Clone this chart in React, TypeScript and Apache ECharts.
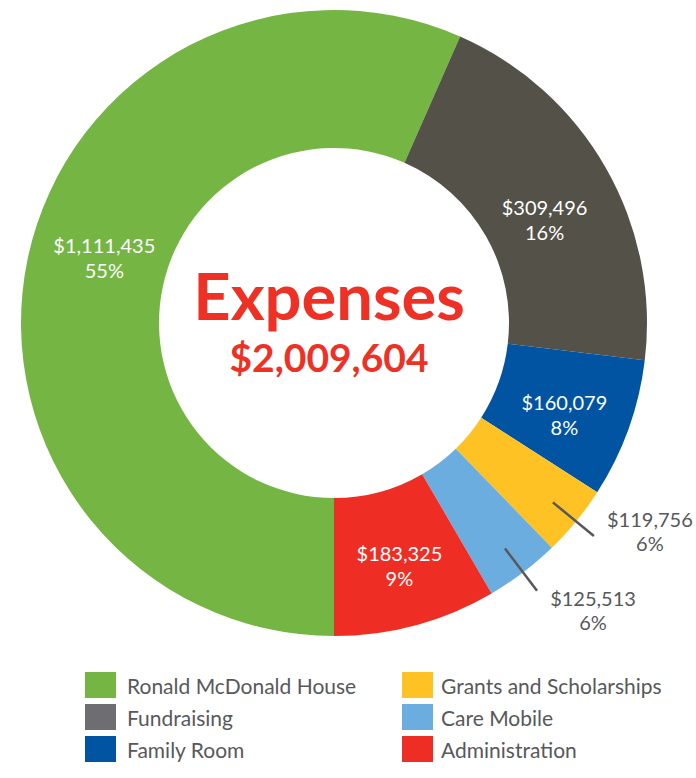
import React, { useEffect, useRef } from "react";
import * as echarts from "echarts";

const categories = [
  "Ronald McDonald House",
  "Fundraising",
  "Family Room",
  "Grants and Scholarships",
  "Care Mobile",
  "Administration",
];
// amounts printed on the labels
const amounts = [1111435, 309496, 160079, 119756, 125513, 183325];
// percentages printed on the labels
const percentLabels = [55, 16, 8, 6, 6, 9];
// arc sizes as drawn in the picture (percent of the ring)
const arcShare = [56.6, 20.3, 7.2, 3.65, 3.85, 8.4];
const sliceColors = ["#74b544", "#545148", "#0054a2", "#fec224", "#6badde", "#ee2e25"];
const legendColors = ["#74b544", "#6e6d72", "#0054a2", "#fec224", "#6badde", "#ee2e25"];
const labelOutside = [false, false, false, true, true, false];
const chartTitle = "Expenses";

const FONT = "Lato, 'Noto Sans', sans-serif";
const GREY_TEXT = "#58585a";

const fmt = (v: number) => "$" + v.toLocaleString("en-US");

export default function App() {
  const ref = useRef<HTMLDivElement>(null);

  useEffect(() => {
    document.body.style.margin = "0";
    if (!ref.current) return;
    const chart = echarts.init(ref.current, null, { renderer: "svg" });
    const total = amounts.reduce((a, b) => a + b, 0);

    const innerNudge: Record<number, [number, number]> = {
      0: [12, -15],
      1: [-4, 19],
      2: [-2, 8],
      5: [1, 4],
    };
    const outerNudge: Record<number, [number, number]> = {
      3: [0, -5],
      4: [0, 19],
    };

    const mainData = categories.map((name, i) => ({
      name,
      value: arcShare[i],
      itemStyle: { color: sliceColors[i] },
      label: { show: !labelOutside[i] },
    }));
    const outerData = categories.map((name, i) => ({
      name,
      value: arcShare[i],
      itemStyle: { color: "transparent" },
      label: { show: labelOutside[i] },
      labelLine: { show: labelOutside[i] },
    }));

    const legendBase = {
      orient: "vertical" as const,
      itemWidth: 31,
      itemHeight: 26,
      itemGap: 6,
      padding: 0,
      icon: "rect",
      selectedMode: false,
      textStyle: {
        fontFamily: FONT,
        fontSize: 21,
        color: GREY_TEXT,
      },
    };

    chart.setOption({
      animation: false,
      legend: [
        {
          ...legendBase,
          left: 85,
          top: 672,
          textStyle: { ...legendBase.textStyle, padding: [0, 0, 0, 6] },
          data: categories.slice(0, 3).map((name, i) => ({
            name,
            itemStyle: { color: legendColors[i] },
          })),
        },
        {
          ...legendBase,
          left: 402,
          top: 672,
          textStyle: { ...legendBase.textStyle, padding: [0, 0, 0, 3] },
          data: categories.slice(3).map((name, i) => ({
            name,
            itemStyle: { color: legendColors[i + 3] },
          })),
        },
      ],
      graphic: [
        {
          type: "text",
          x: 329,
          y: 295,
          style: {
            text: chartTitle,
            fill: "#ee3124",
            font: `bold 65px ${FONT}`,
            align: "center",
            verticalAlign: "middle",
          },
        },
        {
          type: "text",
          x: 329,
          y: 357,
          style: {
            text: fmt(total),
            fill: "#ee3124",
            font: `bold 39px ${FONT}`,
            align: "center",
            verticalAlign: "middle",
          },
        },
      ],
      series: [
        {
          type: "pie",
          name: "main",
          center: [334, 323],
          radius: [175, 313],
          startAngle: 270,
          clockwise: true,
          silent: true,
          avoidLabelOverlap: false,
          itemStyle: { borderWidth: 0 },
          label: {
            position: "inside",
            color: "#ffffff",
            fontFamily: FONT,
            fontSize: 20,
            lineHeight: 25,
            formatter: (p: any) =>
              `${fmt(amounts[p.dataIndex])}\n${percentLabels[p.dataIndex]}%`,
          },
          labelLine: { show: false },
          labelLayout: (p: any) => {
            const n = innerNudge[p.dataIndex] || [0, 0];
            return { dx: n[0], dy: n[1] };
          },
          data: mainData,
        },
        {
          type: "pie",
          name: "callouts",
          center: [334, 323],
          radius: [175, 283],
          startAngle: 270,
          clockwise: true,
          silent: true,
          avoidLabelOverlap: false,
          z: 3,
          label: {
            position: "outside",
            alignTo: "none",
            distanceToLabelLine: 11,
            formatter: (p: any) =>
              `{a|${fmt(amounts[p.dataIndex])}}\n{a|${percentLabels[p.dataIndex]}%}`,
            rich: {
              a: {
                width: 90,
                align: "center",
                fontFamily: FONT,
                fontSize: 20,
                lineHeight: 24,
                color: GREY_TEXT,
              },
            },
          },
          labelLine: {
            length: 53,
            length2: 0,
            smooth: false,
            lineStyle: { color: GREY_TEXT, width: 2.5 },
          },
          labelLayout: (p: any) => {
            const n = outerNudge[p.dataIndex] || [0, 0];
            const pts = p.labelLinePoints
              ? p.labelLinePoints.map((q: number[]) => [q[0], q[1]])
              : undefined;
            return pts ? { dx: n[0], dy: n[1], labelLinePoints: pts } : { dx: n[0], dy: n[1] };
          },
          data: outerData,
        },
      ],
    });

    return () => chart.dispose();
  }, []);

  return <div ref={ref} style={{ width: 696, height: 778 }} />;
}
